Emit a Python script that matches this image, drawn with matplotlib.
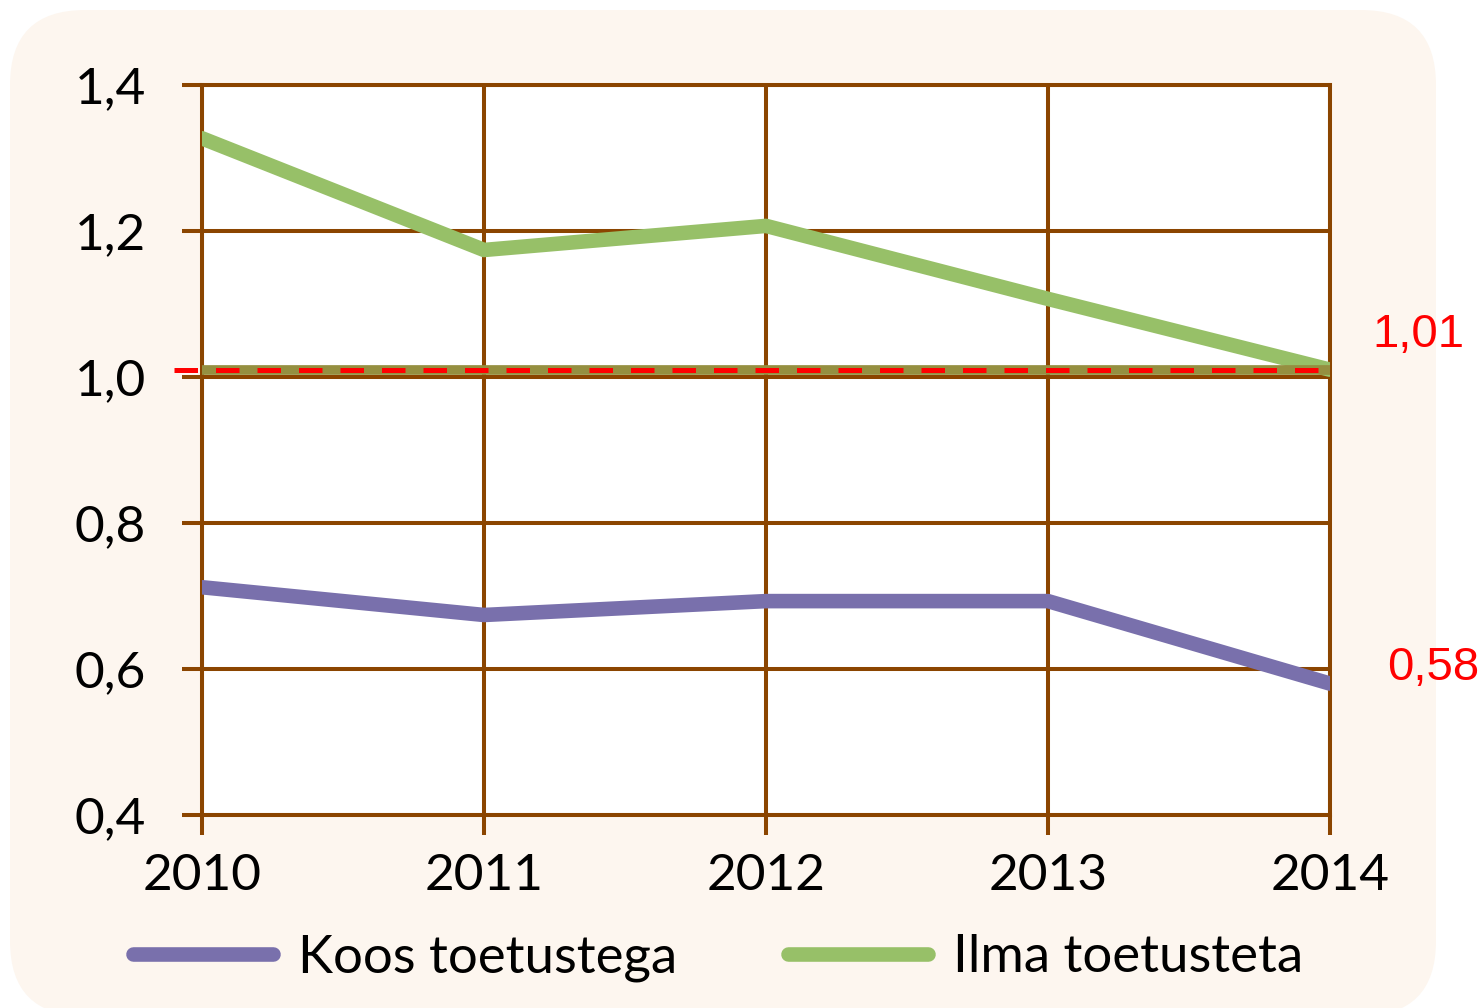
import numpy as np
import matplotlib
matplotlib.use("Agg")
import matplotlib.pyplot as plt
from matplotlib.patches import FancyBboxPatch
from matplotlib.transforms import IdentityTransform

# data
years = [2010, 2011, 2012, 2013, 2014]
koos_toetustega = [0.712, 0.674, 0.693, 0.693, 0.58]
ilma_toetusteta = [1.327, 1.174, 1.207, 1.107, 1.01]
reference_level = 1.01
y_ticks = [0.4, 0.6, 0.8, 1.0, 1.2, 1.4]
y_tick_labels = ["0,4", "0,6", "0,8", "1,0", "1,2", "1,4"]
series_names = ["Koos toetustega", "Ilma toetusteta"]
end_labels = ["0,58", "1,01"]

BROWN = "#8B4500"
PURPLE = "#7970AC"
GREEN = "#97C068"
OLIVE = "#958F40"
PEACH = "#FDF6EF"

plt.rcParams["font.family"] = ["Lato", "DejaVu Sans"]

W, H, DPI = 1483, 1008, 100
fig = plt.figure(figsize=(W / DPI, H / DPI), dpi=DPI)
fig.patch.set_facecolor("white")

# rounded peach panel behind the chart (pixel coordinates)
panel = FancyBboxPatch((10, -8), 1426, 1006,
                       boxstyle="round,pad=0,rounding_size=75",
                       transform=IdentityTransform(),
                       facecolor=PEACH, edgecolor="none", zorder=-5)
fig.patches.append(panel)

ax = fig.add_axes([202 / W, 1 - 815 / H, 1128 / W, 730 / H])
ax.set_zorder(2)
ax.set_facecolor("white")

ax.plot(years, ilma_toetusteta, color=GREEN, lw=10.5,
        solid_capstyle="round", solid_joinstyle="round", zorder=3,
        label=series_names[1])
ax.plot(years, koos_toetustega, color=PURPLE, lw=10.5,
        solid_capstyle="round", solid_joinstyle="round", zorder=3,
        label=series_names[0])

# reference level: olive band plus red dashed line
ax.plot([years[0], years[-1]], [reference_level] * 2, color=OLIVE,
        lw=7, solid_capstyle="butt", zorder=4)
ax.plot([years[0] - 0.1, years[-1]], [reference_level] * 2, color="red",
        lw=3.6, dashes=(4.7, 3.6), dash_capstyle="butt", zorder=5,
        clip_on=False)

ax.set_xlim(years[0], years[-1])
ax.set_ylim(y_ticks[0], y_ticks[-1])
ax.set_xticks(years)
ax.set_xticklabels([str(y) for y in years])
ax.set_yticks(y_ticks)
ax.set_yticklabels(y_tick_labels)

ax.grid(True, color=BROWN, lw=2.9, zorder=1)
ax.set_axisbelow(True)
for sp in ax.spines.values():
    sp.set_color(BROWN)
    sp.set_linewidth(2.9)
ax.tick_params(axis="both", color=BROWN, width=2.9, length=14.4,
               direction="out", labelsize=37, labelcolor="black")
ax.tick_params(axis="y", pad=26)
ax.tick_params(axis="x", pad=13)

# value labels at the end of each series
ax.annotate(end_labels[1], (years[-1], reference_level),
            xytext=(1418, H - 335), textcoords=IdentityTransform(),
            color="red", fontsize=34, family="Liberation Sans",
            ha="center", va="center", annotation_clip=False)
ax.annotate(end_labels[0], (years[-1], koos_toetustega[-1]),
            xytext=(1433, H - 668), textcoords=IdentityTransform(),
            color="red", fontsize=34, family="Liberation Sans",
            ha="center", va="center", annotation_clip=False)

handles, labels = ax.get_legend_handles_labels()
leg = ax.legend(handles[::-1], labels[::-1], ncol=2, frameon=False,
                loc="center", bbox_to_anchor=(718 / W, 1 - 958 / H),
                bbox_transform=fig.transFigure, fontsize=38,
                handlelength=2.65, handletextpad=0.47, columnspacing=2.1)

fig.savefig("out.png", dpi=DPI)
